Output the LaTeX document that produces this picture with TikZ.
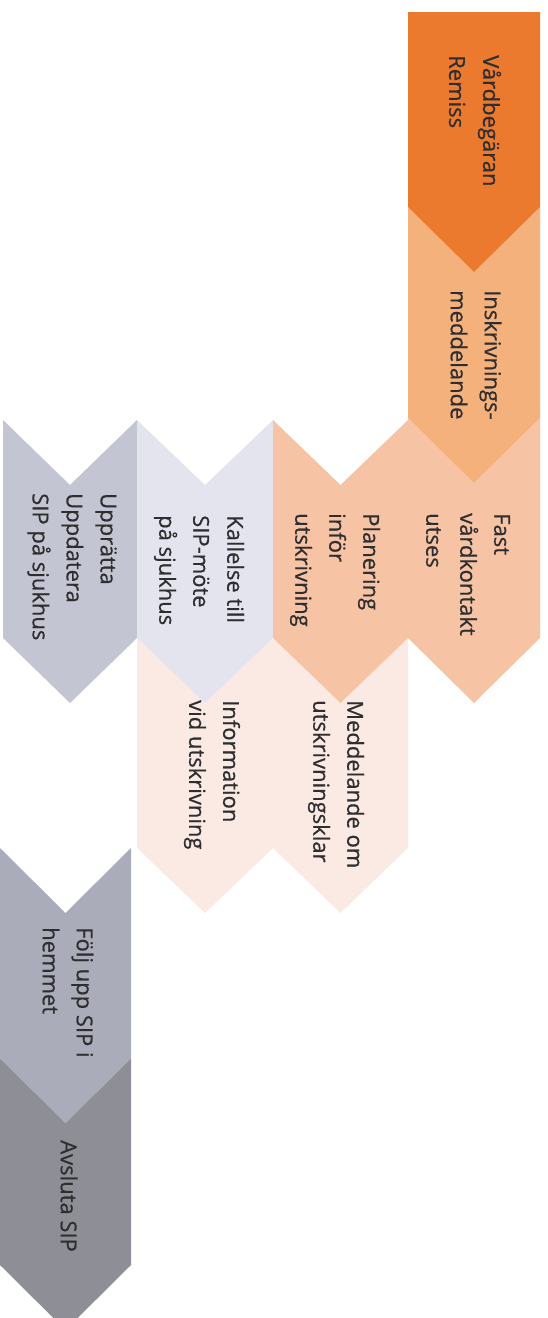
\documentclass[tikz,border=0pt]{standalone}
\usepackage{fontspec}
\setmainfont{Open Sans}
\newfontfamily\lblfont[FakeBold=0.6]{Open Sans}
\definecolor{cOrange}{HTML}{EC7A2E}
\definecolor{cLightOrange}{HTML}{F4B17C}
\definecolor{cPeach}{HTML}{F6C3A4}
\definecolor{cPink}{HTML}{FBEAE4}
\definecolor{cLavender}{HTML}{E3E4EE}
\definecolor{cGreyLav}{HTML}{C4C5D2}
\definecolor{cGrey}{HTML}{ABACBA}
\definecolor{cDark}{HTML}{8E8E97}
\definecolor{txt}{HTML}{2E2E30}
\newcommand{\mychev}[5]{\fill[#5] (#1,#3) -- ({(#1+#2)/2},{#3+65}) -- (#2,#3) -- (#2,#4) -- ({(#1+#2)/2},{#4+65}) -- (#1,#4) -- cycle;}
\begin{document}
\begin{tikzpicture}[x=1pt,y=-1pt,
  lbl/.style={rotate=-90, anchor=west, align=left, inner sep=0pt,
    font=\lblfont\fontsize{22}{34}\selectfont, text=txt}]
\useasboundingbox (0,0) rectangle (547,1318);
% column 4
\mychev{0}{131}{1058}{1265}{cDark}
\mychev{0}{131}{848}{1058}{cGrey}
\mychev{3}{137}{420}{638}{cGreyLav}
% column 3
\mychev{137}{273}{638}{848}{cPink}
\mychev{137}{273}{420}{638}{cLavender}
% column 2
\mychev{273}{408}{638}{848}{cPink}
\mychev{273}{408}{420}{638}{cPeach}
% column 1
\mychev{408}{540}{418}{638}{cPeach}
\mychev{408}{540}{207}{418}{cLightOrange}
\fill[cOrange] (408,12) -- (540,12) -- (540,207) -- (474,272) -- (408,207) -- cycle;
% labels
\node[lbl] (vard) at (475,55) {Vårdbegäran\\Remiss};
\node[lbl] (insk) at (476,290) {Inskrivnings-\\meddelande};
\node[lbl] (fast) at (468,513) {Fast\\vårdkontakt\\utses};
\node[lbl] (plan) at (335,513) {Planering\\inför\\utskrivning};
\node[lbl] (medd) at (336,700) {Meddelande om\\utskrivningsklar};
\node[lbl] (kall) at (199,515) {Kallelse till\\SIP-möte\\på sjukhus};
\node[lbl] (info) at (212,700) {Information\\vid utskrivning};
\node[lbl] (uppr) at (72,493) {Upprätta\\Uppdatera\\SIP på sjukhus};
\node[lbl] (folj) at (68,927) {Följ upp SIP i\\hemmet};
\node[lbl] (avsl) at (69,1140) {Avsluta SIP};
\end{tikzpicture}
\end{document}
